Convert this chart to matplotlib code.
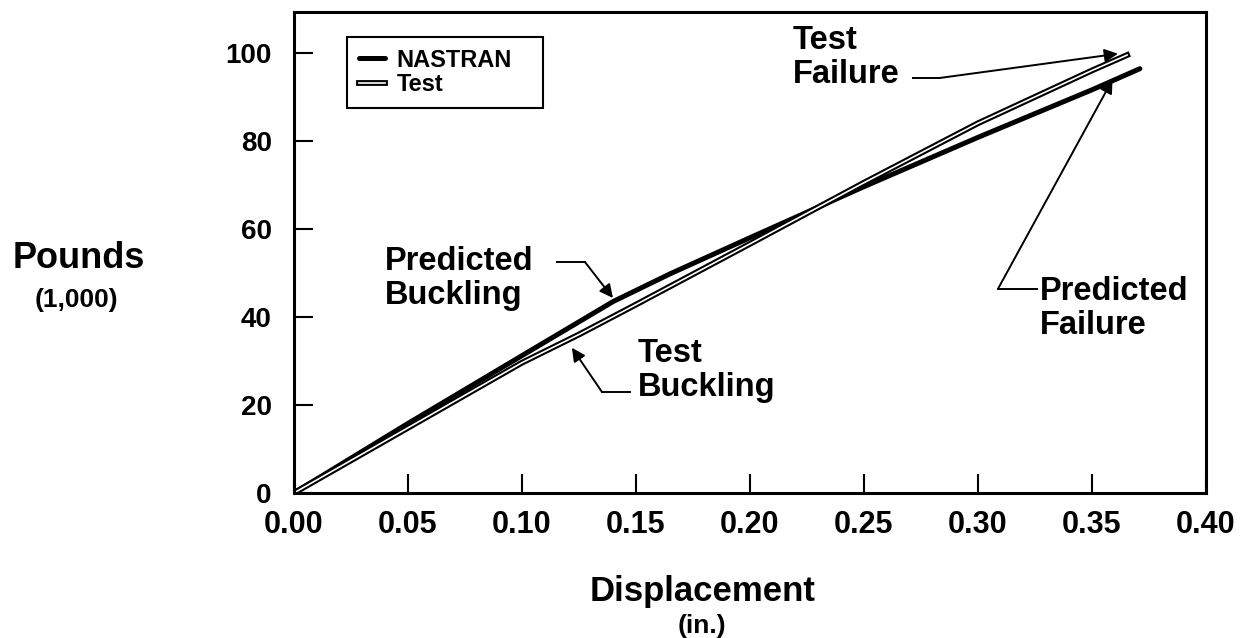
import numpy as np
import matplotlib.pyplot as plt
import matplotlib.patheffects as pe

plt.rcParams['font.family'] = ['Liberation Sans', 'DejaVu Sans']
plt.rcParams['font.weight'] = 'bold'

# load vs displacement
nastran_x = [0.0, 0.05, 0.10, 0.14, 0.165, 0.20, 0.25, 0.30, 0.35, 0.371]
nastran_y = [0.0, 15.8, 31.2, 43.5, 49.8, 58.0, 69.6, 80.8, 91.6, 96.4]
test_x = [0.0, 0.05, 0.10, 0.125, 0.15, 0.20, 0.25, 0.30, 0.35, 0.3654]
test_y = [0.0, 14.8, 29.6, 36.0, 42.8, 56.6, 70.5, 84.0, 96.0, 99.5]

x_ticks = [0.00, 0.05, 0.10, 0.15, 0.20, 0.25, 0.30, 0.35, 0.40]
y_ticks = [0, 20, 40, 60, 80, 100]

fig = plt.figure(figsize=(12.54, 6.38), dpi=100)
ax = fig.add_axes([0.2344, 0.2273, 0.7273, 0.7540])

ax.plot(nastran_x, nastran_y, color='black', lw=3.6, solid_capstyle='round',
        solid_joinstyle='round', label='NASTRAN')
ax.plot(test_x, test_y, color='white', lw=1.2, label='Test', solid_joinstyle='round',
        path_effects=[pe.Stroke(linewidth=4.2, foreground='black'), pe.Normal()])

ax.set_xlim(0, 0.40)
ax.set_ylim(0, 109.3)
ax.set_xticks(x_ticks)
ax.set_xticklabels([f'{v:.2f}' for v in x_ticks])
ax.set_yticks(y_ticks)
ax.tick_params(direction='in', length=14, width=1.5)
ax.tick_params(axis='x', pad=12, labelsize=22)
ax.tick_params(axis='y', pad=16, labelsize=20)
for s in ax.spines.values():
    s.set_linewidth(2.2)

leg = ax.legend(loc='upper left', bbox_to_anchor=(0.058, 0.802, 0.215, 0.146),
                mode='expand', borderaxespad=0,
                fontsize=17, handlelength=1.1, handletextpad=0.5, labelspacing=0.05,
                fancybox=False, framealpha=1, edgecolor='black',
                borderpad=0.5)
leg.get_frame().set_linewidth(1.5)

# axis titles
fig.text(0.063, 0.595, 'Pounds', fontsize=26, ha='center', va='center')
fig.text(0.061, 0.530, '(1,000)', fontsize=19, ha='center', va='center')
fig.text(0.560, 0.073, 'Displacement', fontsize=25, ha='center', va='center')
fig.text(0.560, 0.0, '(in.)', fontsize=19, ha='center', va='bottom')

arrow_kw = dict(arrowstyle='-|>', lw=1.4, color='black', mutation_scale=20,
                shrinkA=0, shrinkB=0)


def leader(text, text_xy, bar, tip):
    ax.text(text_xy[0], text_xy[1], text, fontsize=23.5, ha='left', va='center',
            linespacing=1.12)
    ax.plot([bar[0], bar[1]], [bar[2], bar[2]], color='black', lw=1.4)
    ax.annotate('', xy=tip, xytext=(bar[1], bar[2]), arrowprops=arrow_kw)


leader('Test\nFailure', (0.2189, 99.0), (0.2715, 0.2833, 94.3), (0.3614, 99.8))
leader('Predicted\nBuckling', (0.0399, 48.7), (0.1154, 0.1276, 52.5), (0.1399, 44.3))
leader('Test\nBuckling', (0.1509, 27.9), (0.1474, 0.1351, 22.95), (0.1219, 33.0))
leader('Predicted\nFailure', (0.3272, 42.0), (0.3259, 0.3088, 46.4), (0.359, 93.9))

fig.savefig('out.png', dpi=100)
